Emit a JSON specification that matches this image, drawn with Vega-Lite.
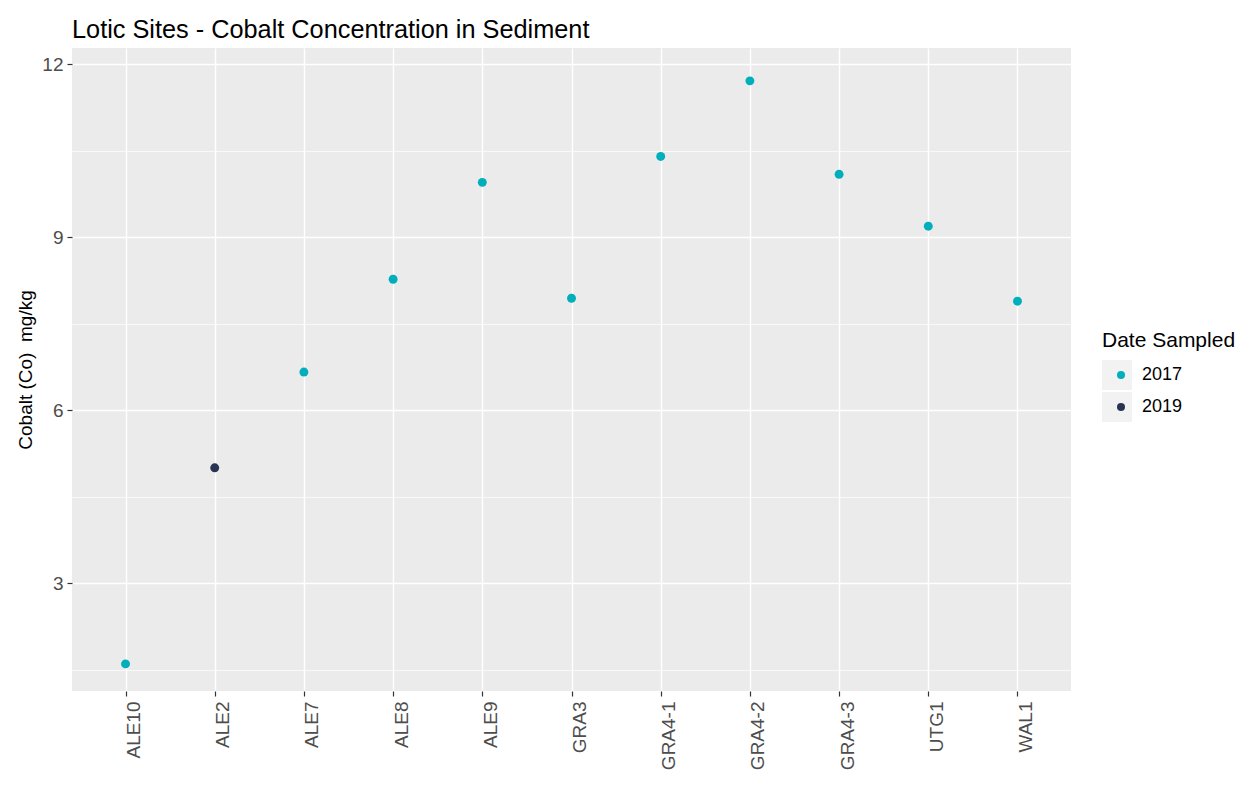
{
  "$schema": "https://vega.github.io/schema/vega-lite/v6.json",
  "width": 999,
  "height": 643,
  "autosize": {"type": "none"},
  "padding": {"left": 72, "top": 48, "right": 186, "bottom": 115},
  "background": "white",
  "config": {
    "font": "Liberation Sans",
    "view": {"fill": "#EBEBEB", "stroke": null},
    "axis": {"domain": false, "gridColor": "white", "tickColor": "#333333", "tickWidth": 1.2, "tickSize": 5, "labelColor": "#4D4D4D", "labelFontSize": 19, "titleFontWeight": "normal", "titleColor": "black", "titleFontSize": 19}
  },
  "title": {"text": "Lotic Sites - Cobalt Concentration in Sediment", "anchor": "start", "frame": "group", "fontSize": 25.3, "fontWeight": "normal", "color": "black", "baseline": "alphabetic", "offset": -15},
  "data": {"values": [
    {"site": "ALE10", "cobalt": 1.6, "year": "2017"},
    {"site": "ALE2", "cobalt": 5.0, "year": "2019"},
    {"site": "ALE7", "cobalt": 6.66, "year": "2017"},
    {"site": "ALE8", "cobalt": 8.27, "year": "2017"},
    {"site": "ALE9", "cobalt": 9.95, "year": "2017"},
    {"site": "GRA3", "cobalt": 7.94, "year": "2017"},
    {"site": "GRA4-1", "cobalt": 10.4, "year": "2017"},
    {"site": "GRA4-2", "cobalt": 11.71, "year": "2017"},
    {"site": "GRA4-3", "cobalt": 10.09, "year": "2017"},
    {"site": "UTG1", "cobalt": 9.19, "year": "2017"},
    {"site": "WAL1", "cobalt": 7.89, "year": "2017"}
  ]},
  "encoding": {
    "x": {"field": "site", "type": "nominal", "sort": null, "scale": {"type": "point", "padding": 0.6},
      "axis": {"title": null, "labelAngle": -90, "labelAlign": "right", "labelBaseline": "middle", "labelOffset": 8, "labelPadding": 5, "grid": true, "gridWidth": 1.4}},
    "y": {"field": "cobalt", "type": "quantitative", "scale": {"domain": [1.13, 12.28], "nice": false, "zero": false},
      "axis": {"title": "Cobalt (Co)\u00a0 mg/kg", "values": [1.5, 3, 4.5, 6, 7.5, 9, 10.5, 12], "labelExpr": "datum.value % 3 === 0 ? datum.label : ''", "labelPadding": 4, "titlePadding": 6,
        "gridWidth": {"condition": {"test": "datum.value % 3 === 0", "value": 1.4}, "value": 0.7},
        "tickOpacity": {"condition": {"test": "datum.value % 3 === 0", "value": 1}, "value": 0}}}
  },
  "layer": [
    {
      "transform": [{"filter": "datum.year === 'none'"}],
      "mark": {"type": "point", "shape": "square", "filled": true, "color": "#F2F2F2", "opacity": 1},
      "encoding": {
        "shape": {"field": "year", "type": "nominal", "scale": {"domain": ["key1", "key2"], "range": ["square", "square"]},
          "legend": {"orient": "none", "legendX": 1030, "legendY": 282, "title": "Date Sampled", "titleFontSize": 21, "titleFontWeight": "normal", "titleColor": "black", "titlePadding": 9, "labelFontSize": 18, "labelExpr": "''", "labelOffset": 11, "symbolSize": 900, "symbolType": "square", "symbolFillColor": "#F2F2F2", "symbolStrokeWidth": 0, "symbolStrokeColor": "#F2F2F2", "rowPadding": 2, "clipHeight": 30, "zindex": 0}}
      }
    },
    {
      "mark": {"type": "point", "filled": true, "size": 80, "opacity": 1},
      "encoding": {
        "color": {"field": "year", "type": "nominal", "scale": {"domain": ["2017", "2019"], "range": ["#00AFBB", "#293352"]},
          "legend": {"orient": "none", "legendX": 1040, "legendY": 312, "title": null, "labelColor": "black", "labelFontSize": 18, "labelOffset": 12, "symbolSize": 64, "symbolType": "circle", "symbolOpacity": 1, "rowPadding": 2, "clipHeight": 30, "zindex": 1}}
      }
    }
  ]
}
